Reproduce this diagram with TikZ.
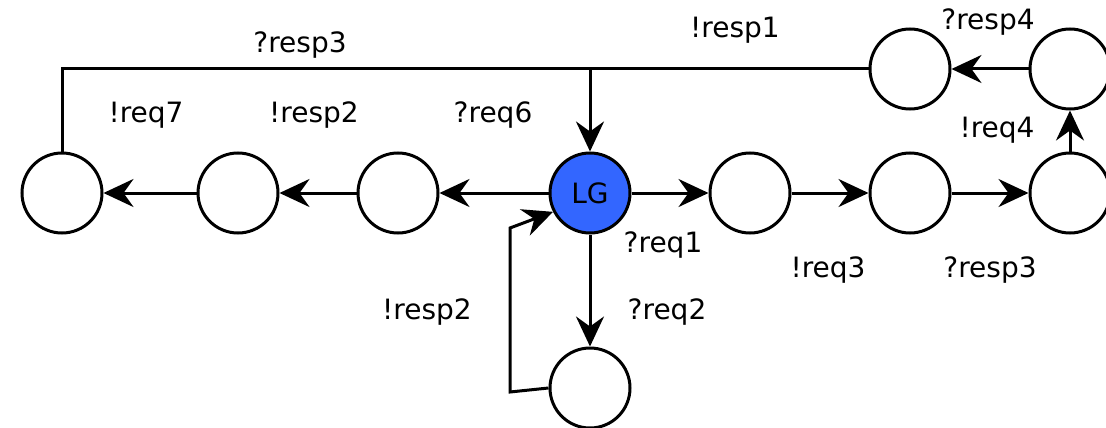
\documentclass[tikz,border=0pt]{standalone}
\usepackage{fontspec}
\setmainfont{DejaVu Sans}
\usetikzlibrary{arrows.meta}
\definecolor{lgblue}{RGB}{51,102,255}
\begin{document}
\begin{tikzpicture}[x=1pt,y=-1pt,
  state/.style={circle,draw,line width=3pt,minimum size=80pt,inner sep=0pt,fill=white},
  edge/.style={line width=3pt,-{Stealth[length=30pt,width=28pt,inset=10pt]}},
  wire/.style={line width=3pt},
  lbl/.style={font=\fontsize{28}{32}\selectfont,inner sep=0pt}]
\useasboundingbox (0,0) rectangle (1106,428);
% states
\node[state] (c1) at (62,193) {};
\node[state] (c2) at (238,193) {};
\node[state] (c3) at (398,193) {};
\node[state,fill=lgblue,font=\fontsize{28}{32}\selectfont] (lg) at (590,193) {LG};
\node[state] (r1) at (750,193) {};
\node[state] (r2) at (910,193) {};
\node[state] (r3) at (1070,193) {};
\node[state] (t2) at (1070,69) {};
\node[state] (t1) at (910,69) {};
\node[state] (b) at (590,388) {};
% helper points
\coordinate (j) at (lg |- t1);
\coordinate (la) at (510,392);
\coordinate (lb) at (510,228);
% transitions
\draw[edge] (lg) -- (c3);
\draw[edge] (c3) -- (c2);
\draw[edge] (c2) -- (c1);
\draw[edge] (lg) -- (r1);
\draw[edge] (r1) -- (r2);
\draw[edge] (r2) -- (r3);
\draw[edge] (r3) -- (t2);
\draw[edge] (t2) -- (t1);
\draw[wire] (t1.west) -- (j);
\draw[wire] (c1.north) |- (j);
\draw[edge] (j) -- (lg.north);
\draw[edge] (lg) -- (b);
\draw[edge] (b.west) -- (la) -- (lb) -- (lg.207);
% labels
\node[lbl] (l1) at (300,45) {?resp3};
\node[lbl] (l2) at (146,115) {!req7};
\node[lbl] (l3) at (314,115) {!resp2};
\node[lbl] (l4) at (493,115) {?req6};
\node[lbl] (l5) at (735,30) {!resp1};
\node[lbl] (l6) at (988,22) {?resp4};
\node[lbl] (l7) at (997,130) {!req4};
\node[lbl] (l8) at (663,245) {?req1};
\node[lbl] (l9) at (828,270) {!req3};
\node[lbl] (l10) at (990,270) {?resp3};
\node[lbl] (l11) at (667,312) {?req2};
\node[lbl] (l12) at (427,312) {!resp2};
\end{tikzpicture}
\end{document}
